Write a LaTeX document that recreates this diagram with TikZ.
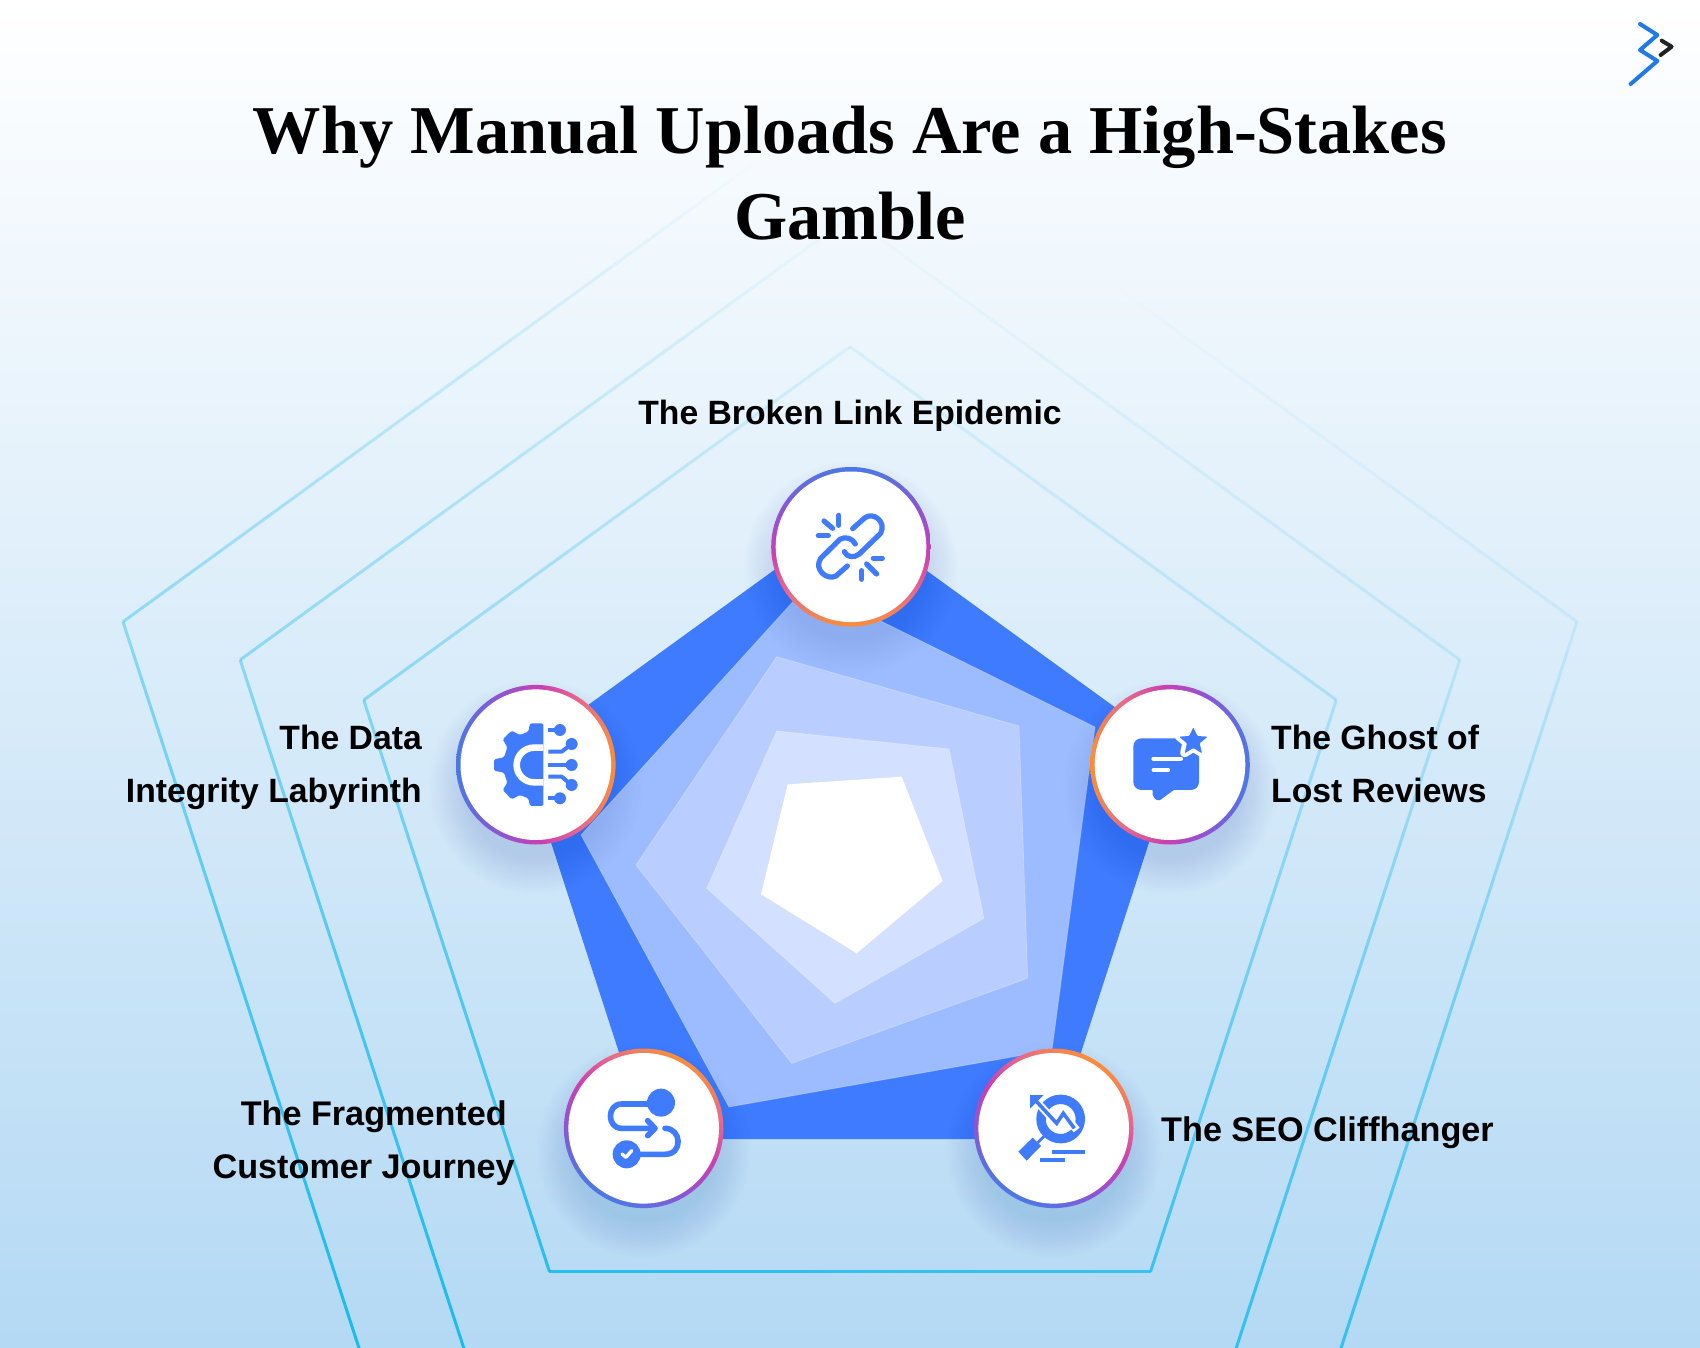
\documentclass[tikz,border=0pt]{standalone}
\usepackage{fontspec}
\setmainfont{Liberation Serif}
\newfontfamily\labelfont{Liberation Sans}
\definecolor{topbg}{HTML}{FFFFFF}
\definecolor{botbg}{HTML}{B4D9F4}
\definecolor{brandblue}{HTML}{3F7BFF}
\definecolor{iconblue}{HTML}{3F7BFA}
\definecolor{lay2}{HTML}{9DBCFF}
\definecolor{lay3}{HTML}{B9CDFF}
\definecolor{lay4}{HTML}{D3E0FF}
\definecolor{linecyan}{HTML}{18BBEE}
\definecolor{logoblue}{HTML}{1F7AE8}
\definecolor{logodark}{HTML}{222222}
\definecolor{ringO}{HTML}{FA8E38}
\definecolor{ringM}{HTML}{E8688A}
\definecolor{ringP}{HTML}{CC3FB0}
\definecolor{ringV}{HTML}{8C55D6}
\definecolor{ringB}{HTML}{4C78E6}
\definecolor{shadowc}{HTML}{1D4E89}
\pgfdeclareverticalshading{ringgrad}{100bp}{color(0bp)=(ringO);color(25bp)=(ringO);color(36bp)=(ringM);color(48bp)=(ringP);color(62bp)=(ringV);color(75bp)=(ringB);color(100bp)=(ringB)}
\tikzset{
  ringdisc/.style={circle,inner sep=0pt,minimum size=159.6pt,shade,shading=ringgrad,shading angle=#1},
  whitedisc/.style={circle,inner sep=0pt,minimum size=150.6pt,fill=white},
  titletext/.style={font=\fontsize{68.4}{86}\selectfont\bfseries,align=center,inner sep=0pt,text=black},
  lab/.style={font=\labelfont\fontsize{33.7}{53}\selectfont\bfseries,inner sep=0pt,text=black},
  labwide/.style={font=\labelfont\fontsize{34.2}{53}\selectfont\bfseries,inner sep=0pt,text=black},
  layer/.style={draw=white,draw opacity=.25,line width=.8pt},
  ic/.style={draw=iconblue,line width=#1 pt,line cap=round,line join=round},
  icfill/.style={fill=iconblue},
}
\newcommand{\ringicon}[4]{%
  \foreach \rr in {72,74.5,...,107}{\fill[shadowc,opacity=.0065] (#2,#3+22) circle (\rr);}
  \node[ringdisc=#4] (#1) at (#2,#3) {};
  \node[whitedisc] (#1w) at (#1.center) {};
}
\begin{document}
\begin{tikzpicture}[x=1pt,y=-1pt]
\useasboundingbox (0,0) rectangle (1700,1348);
\shade[top color=topbg,bottom color=botbg] (0,0) rectangle (1700,1348);
% fading outline pentagons
\begin{scope}
\clip (0,0) rectangle (1700,1348);
\foreach \R in {511.3,641.2,764.4}{
  \foreach \k in {0,...,4}{
    \pgfmathsetmacro{\xa}{850+\R*sin(72*\k)}
    \pgfmathsetmacro{\ya}{858-\R*cos(72*\k)}
    \pgfmathsetmacro{\xb}{850+\R*sin(72*(\k+1))}
    \pgfmathsetmacro{\yb}{858-\R*cos(72*(\k+1))}
    \foreach \t in {0,...,29}{
      \pgfmathsetmacro{\xs}{\xa+(\xb-\xa)*(\t/30)}
      \pgfmathsetmacro{\ys}{\ya+(\yb-\ya)*(\t/30)}
      \pgfmathsetmacro{\xe}{\xa+(\xb-\xa)*((\t+1)/30)}
      \pgfmathsetmacro{\ye}{\ya+(\yb-\ya)*((\t+1)/30)}
      \pgfmathsetmacro{\ym}{0.5*\ys+0.5*\ye}
      \pgfmathsetmacro{\xm}{0.5*\xs+0.5*\xe}
      \pgfmathsetmacro{\op}{max(0,min(1,.4-.0002*(\xm-122)+(\ym-622)*ifthenelse(\ym<622,.00059,.0009)))}
      \draw[linecyan,line width=3pt,opacity=\op] (\xs,\ys) -- (\xe,\ye);
    }
  }
}
\end{scope}
% stacked pentagons
\fill[brandblue] (850,515) -- (1178,753) -- (1053,1139) -- (647,1139) -- (522,753) -- cycle;
\fill[lay2,layer] (808,585) -- (1095,727) -- (1052,1050) -- (729,1107) -- (581,835) -- cycle;
\fill[lay3,layer] (776.7,656.7) -- (1019,726) -- (1027.7,978.3) -- (791.7,1063.3) -- (636,865) -- cycle;
\fill[lay4,layer] (776.7,731) -- (949,749) -- (984,918.3) -- (835,1003.3) -- (706.7,888.3) -- cycle;
\fill[white] (787.7,784.3) -- (901.7,776.7) -- (942.7,881) -- (856.7,953.3) -- (761,894.3) -- cycle;
% icon discs
\ringicon{top}{851}{546.8}{0}
\ringicon{left}{535.8}{764.7}{90}
\ringicon{right}{1170}{764.7}{-90}
\ringicon{lowleft}{643.7}{1128.3}{150}
\ringicon{lowright}{1053.7}{1128.3}{150}
% link icon
\begin{scope}[shift={(750,450)},x=.3333pt,y=-.3333pt]
\draw[ic=5.2] (308,236) -- (345,203) .. controls (370,185) and (410,215) .. (392,250) -- (328,312) .. controls (312,325) and (290,322) .. (283,305);
\draw[ic=5.2] (292,348) -- (258,378) .. controls (232,392) and (190,360) .. (212,325) -- (270,268) .. controls (285,258) and (308,265) .. (316,282);
\draw[ic=5.2] (222,213) -- (248,235);
\draw[ic=5.2] (266,196) -- (266,226);
\draw[ic=5.2] (205,257) -- (235,257);
\draw[ic=5.2] (370,325) -- (397,325);
\draw[ic=5.2] (350,342) -- (380,372);
\draw[ic=5.2] (335,362) -- (335,388);
\end{scope}
% gear icon
\begin{scope}[shift={(440,670)},x=.3333pt,y=-.3333pt]
\fill[icfill,rounded corners=1.5pt] (310,160) -- (270,160) -- (265,185) -- (240,195) -- (215,182) -- (188,208) -- (202,232) -- (192,262) -- (162,268) -- (162,302) -- (192,308) -- (202,338) -- (188,360) -- (215,388) -- (240,375) -- (265,385) -- (270,408) -- (310,408) -- cycle;
\draw[white,line width=6.6pt] (310,233) -- (282,233) arc[start angle=-90,end angle=-270,radius=52] -- (310,337);
\draw[ic=4,line cap=butt] (325,180) -- (360,180);
\fill[icfill] (360,180) circle[radius=18];
\draw[ic=4,line cap=butt] (325,245) -- (365,245) -- (395,222);
\fill[icfill] (395,222) circle[radius=18];
\draw[ic=4,line cap=butt] (325,285) -- (395,285);
\fill[icfill] (395,285) circle[radius=18];
\draw[ic=4,line cap=butt] (325,320) -- (365,320) -- (395,345);
\fill[icfill] (395,345) circle[radius=18];
\draw[ic=4,line cap=butt] (325,385) -- (360,385);
\fill[icfill] (360,385) circle[radius=18];
\end{scope}
% chat icon
\begin{scope}[shift={(1075,670)},x=.3333pt,y=-.3333pt]
\fill[icfill,rounded corners=8pt] (175,205) rectangle (372,360);
\fill[icfill,rounded corners=2pt] (232,345) -- (233,380) -- (250,394) -- (310,350) -- cycle;
\draw[white,line width=9pt,line join=round,fill=white] (355,167) -- (367,196) -- (398,198) -- (374,218) -- (381,248) -- (355,232) -- (329,248) -- (336,218) -- (312,198) -- (343,196) -- cycle;
\fill[icfill,rounded corners=1pt] (355,172) -- (367,198) -- (398,200) -- (374,220) -- (381,250) -- (355,234) -- (329,250) -- (336,220) -- (312,200) -- (343,198) -- cycle;
\draw[white,line width=4pt,line cap=round] (235,266) -- (318,266);
\draw[white,line width=3.6pt,line cap=round] (235,300) -- (280,300);
\end{scope}
% journey icon
\begin{scope}[shift={(550,1030)},x=.3333pt,y=-.3333pt]
\fill[icfill] (333,218) circle[radius=42];
\draw[ic=5.6] (300,222) -- (215,222) .. controls (170,222) and (170,295) .. (215,295) -- (310,295);
\draw[ic=5.6] (293,272) -- (315,295) -- (293,317);
\draw[ic=5.6] (345,295) .. controls (395,295) and (400,373) .. (345,373) -- (270,373);
\fill[icfill] (230,373) circle[radius=42];
\draw[white,line width=3.4pt,line cap=round,line join=round] (216,372) -- (228,382) -- (245,362);
\end{scope}
% SEO icon
\begin{scope}[shift={(955,1030)},x=.3333pt,y=-.3333pt]
\draw[iconblue,line width=9.4pt] (317,267) circle[radius=59];
\draw[white,line width=7.5pt,line join=miter] (245,215) -- (305,280) -- (325,250) -- (365,300);
\draw[iconblue,line width=3.6pt,line join=miter] (245,215) -- (305,280) -- (325,250) -- (358,295);
\fill[icfill] (225,195) -- (266,195) -- (225,236) -- cycle;
\fill[icfill] (190,365) -- (233,323) -- (258,348) -- (215,392) -- cycle;
\draw[iconblue,line width=2.8pt] (248,338) -- (268,318);
\fill[icfill] (292,360) rectangle (390,372);
\fill[icfill] (255,385) rectangle (330,397);
\end{scope}
% logo
\begin{scope}[shift={(1600,0)},x=.3333pt,y=-.3333pt]
\draw[logoblue,line width=4pt,line cap=round,line join=round] (120,72) -- (172,105) -- (120,150) -- (172,183) -- (92,252);
\draw[logodark,line width=4pt,line cap=round,line join=round] (185,122) -- (215,140) -- (182,165);
\end{scope}
% text
\node[titletext] (title) at (850,173.5) {Why Manual Uploads Are a High-Stakes\\Gamble};
\node[lab,anchor=base] (labtop) at (850,424) {The Broken Link Epidemic};
\node[lab,align=right,anchor=east] (lableft) at (422,767.5) {The Data\\Integrity Labyrinth};
\node[lab,align=left,anchor=west] (labright) at (1271,764) {The Ghost of\\Lost Reviews};
\node[labwide,align=right,anchor=east] (lablowleft) at (515,1143) {The Fragmented\hspace*{8pt}\\Customer Journey};
\node[labwide,anchor=base west] (lablowright) at (1161,1141) {The SEO Cliffhanger};
\end{tikzpicture}
\end{document}
